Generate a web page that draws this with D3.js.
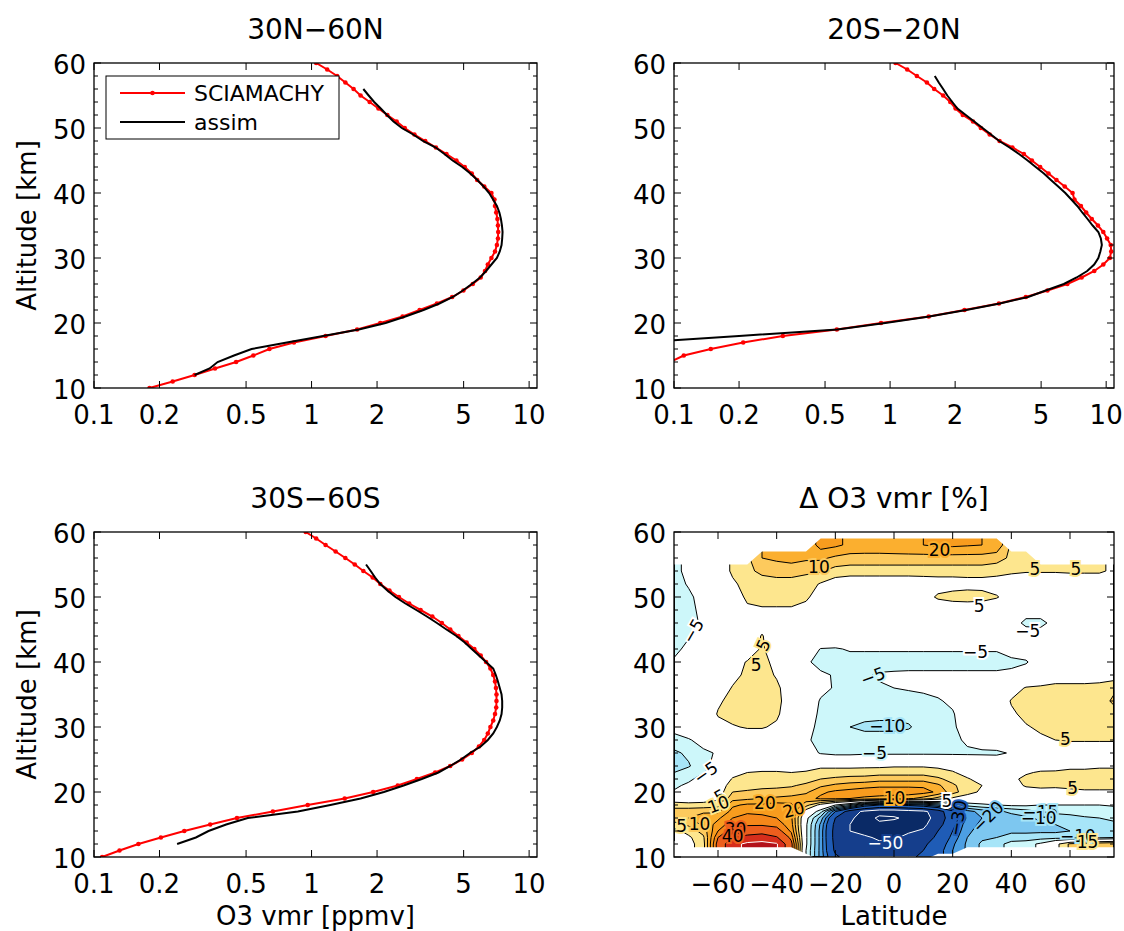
<!DOCTYPE html>
<html><head><meta charset="utf-8">
<script src="https://cdn.jsdelivr.net/npm/d3@7/dist/d3.min.js"></script>
<style>
html,body{margin:0;padding:0;background:#fff;}
svg{display:block;}
</style></head>
<body>
<svg id="fig" width="1124" height="931" xmlns="http://www.w3.org/2000/svg"></svg>
<script>
const n = null;
// ---------------- profile data (O3 vmr, ppmv) ----------------
const alt10to60 = [10,11,12,13,14,15,16,17,18,19,20,21,22,23,24,25,26,27,28,29,30,31,32,33,34,35,36,37,38,39,40,41,42,43,44,45,46,47,48,49,50,51,52,53,54,55,56,57,58,59,60];

// 30N-60N
const sciaNH = [0.18,0.23,0.29,0.36,0.45,0.54,0.64,0.83,1.16,1.62,2.07,2.62,3.14,3.77,4.43,4.99,5.51,5.99,6.27,6.46,6.71,6.97,7.11,7.19,7.21,7.19,7.15,7.06,6.97,6.93,6.71,6.22,5.77,5.45,5.06,4.63,4.17,3.73,3.33,2.97,2.68,2.46,2.23,2.03,1.85,1.68,1.56,1.43,1.31,1.18,1.05]; // 10..60 km
const assimNH = [0.29,0.34,0.37,0.44,0.53,0.77,1.13,1.65,2.19,2.70,3.27,3.87,4.46,4.96,5.45,5.95,6.34,6.71,7.11,7.33,7.47,7.52,7.55,7.5,7.42,7.3,7.11,6.83,6.55,6.18,5.78,5.37,4.93,4.45,4.08,3.72,3.25,2.93,2.6,2.38,2.22,2.08,1.94,1.83,1.73]; // 12..56 km

// 20S-20N
const sciaTR = [0.096,0.111,0.148,0.209,0.319,0.567,0.908,1.51,2.21,3.19,4.25,5.35,6.61,7.70,8.81,9.70,10.4,10.55,10.5,10.1,9.70,9.16,8.58,8.08,7.64,7.13,6.99,6.43,5.89,5.41,4.95,4.53,4.16,3.68,3.21,2.89,2.63,2.42,2.17,2.01,1.90,1.76,1.60,1.48,1.33,1.20,1.06]; // 14..60 km
const assimTR = [0.07,0.20,0.57,0.95,1.52,2.25,3.22,4.35,5.25,6.37,7.3,8.17,8.8,9.2,9.4,9.55,9.45,9.2,8.66,8.2,7.75,7.35,6.9,6.47,6.0,5.55,5.15,4.72,4.33,3.95,3.57,3.2,2.93,2.68,2.45,2.24,2.05,1.94,1.84,1.76,1.68,1.61]; // 17..58 km

// 30S-60S
const sciaSH = [0.109,0.131,0.160,0.203,0.260,0.342,0.454,0.664,0.96,1.42,1.92,2.49,3.05,3.70,4.34,4.92,5.45,5.88,6.22,6.46,6.64,6.84,6.97,7.06,7.08,7.08,7.04,6.97,6.84,6.64,6.34,5.99,5.60,5.16,4.73,4.34,3.97,3.59,3.17,2.81,2.52,2.28,2.07,1.91,1.73,1.58,1.43,1.29,1.16,1.05,0.94]; // 10..60 km
const assimSH = [0.241,0.294,0.336,0.405,0.509,0.865,1.22,1.68,2.15,2.65,3.21,3.83,4.34,4.86,5.35,5.99,6.46,6.84,7.11,7.33,7.47,7.52,7.52,7.47,7.33,7.19,7.03,6.84,6.34,5.88,5.45,5.06,4.63,4.17,3.77,3.39,3.03,2.70,2.43,2.23,2.07,1.96,1.87,1.78]; // 12..55 km

const xTickVals = [0.1,0.2,0.5,1,2,5,10];
const xTickText = ["0.1","0.2","0.5","1","2","5","10"];
const yTickVals = [10,20,30,40,50,60];
const latTickVals = [-60,-40,-20,0,20,40,60];

// ---------------- difference field (Delta O3 vmr, %) ----------------
const latC = [-75,-70,-65,-60,-55,-50,-45,-40,-35,-30,-25,-20,-15,-10,-5,0,5,10,15,20,25,30,35,40,45,50,55,60,65,70,75];
const altR = [10,11,12,13,14,15,16,17,18,19,20,21,22,23,24,26,28,30,32,34,36,38,40,42,44,46,48,50,52,54,56,58,60];
const dO3 = [
/*10*/[n,n,n,n,n,n,n,n,n,n,-22,-38,-45,-45,-45,-45,-42,-38,n,n,n,n,n,n,n,n,n,n,n,n,n],
/*11*/[n,n,n,n,n,n,n,n,n,-5,-22,-42,-47,-46,-47,-47,-44,-40,-33,-25,n,n,n,n,n,n,n,n,n,n,n],
/*12*/[n,3,8,33,47,52,53,51,32,-4,-22,-43,-48,-47,-49,-49,-46,-42,-35,-26,-19,-14,-12,-8,-7,-4,3,11,13,14,15],
/*13*/[1,4,9,30,41,43,45,41,28,-4,-22,-44,-49,-49,-51,-51,-48,-45,-38,-28,-20,-16,-15,-13,-13,-12,-12,-12,-12,-11,-10],
/*14*/[3,7,12,25,33,35,36,33,24,-4,-22,-44,-50,-52,-54,-53,-51,-49,-40,-30,-21,-18,-17,-16,-16,-16,-16,-15,-15,-14,-13],
/*15*/[8,11,16,22,28,29,29,28,22,-4,-21,-43,-50,-54,-58,-57,-55,-52,-44,-32,-22,-19,-18,-17,-17,-16,-15,-14,-13,-12,-11],
/*16*/[13,15,18,19,25,27,26,25,21,-3,-17,-40,-48,-55,-62,-61,-58,-54,-46,-34,-24,-20,-18,-17,-16,-14,-12,-11,-10.5,-10,-9],
/*17*/[12,13,14,14,22,24,24,24,21,2,-8,-30,-45,-52,-56,-56,-54,-52,-45,-32,-22,-18,-16,-14,-12,-10,-9,-9,-8,-8,-7],
/*18*/[8,7,7,8,19,21,21,22,21,12,3,-5,-12,-25,-30,-30,-28,-25,-20,-12,-8,-6,-5,-4,-4,-5,-5,-5,-5,-5,-4.5],
/*19*/[1,1,2,4,13,14,15,16,17,18,21,21,20,19,18,17,16,13,8,4,2,0,0,0,0,0,0,0.5,1,1,1],
/*20*/[-4.5,-2,0,2,10,10.5,11,11.5,12,14,19,21,22,23,23,23,23,22,19,12,7,4,1,1,3,3.5,4,4.5,4.5,4.5,4.5],
/*21*/[-6,-4,-1,1,8,8.5,9,9,9.5,11,14,16,17,18,19,19,19,19,16,11,7,5,1,3,5.5,6,5.5,5.5,6,6,6],
/*22*/[-8,-6,-3,0,5.5,7,7.5,7.5,7.5,8,10,11,12,12,13,13,13,13,11,8,5.5,3,1,4,6,6.5,7,7,7,7,7],
/*23*/[-10,-7.5,-5.3,-2,3,5,5.5,5.5,5,5.5,7,7,7,7.5,8,8,8,8,7,5.5,3,1.5,0,2,4.5,5.5,5.5,6,6,6,6],
/*24*/[-12,-10.5,-6.5,-3,1,2,2.5,2.5,2.5,3,4,4,4,4,4,4.5,4.5,4.5,4,3,2,1,0,1,2,3,3.5,4,4,4.5,4.5],
/*26*/[-11,-9,-6,-4.5,0,0,0,0,0,-2,-5.5,-6.5,-6.5,-6,-6,-6,-6,-6,-6,-6,-6,-6,-6,-4.5,-1,1,1,1,1,1,1],
/*28*/[-7,-5.5,-3,1,1,1,1,1,0,-4.5,-6,-7,-8,-8,-8,-8,-7.5,-7,-7,-6.5,-4,-2,-1,0,2,4,5,5.5,5.5,5.5,5.5],
/*30*/[-3,-1,0,3,4.5,5.5,5.5,4,0,-3,-6.5,-8,-10,-11,-11,-11,-10.5,-8,-7,-6,-2,0,0,1,4.5,6,6.5,6.5,6.5,6.5,7],
/*32*/[0,0,0,5.5,7,7.5,7.5,6,1,-2,-6,-7,-8,-8.5,-9,-9,-8.5,-7.5,-6.5,-5.5,-1.5,0,0,4,6.5,7,7,7,7,7,8],
/*34*/[0,0,0,4,7,7.5,7.5,6.5,2,-1,-5.5,-6.5,-7,-7,-7,-7,-7,-6.5,-5.5,-4,-1,0,0,5.5,7,7,7,7,7,7.5,11],
/*36*/[0,0,0,1,5.5,7,7,6,2,-1,-3.5,-5.5,-6,-6,-5.5,-5,-4.5,-4,-3.5,-2,0,0,0,2,5.5,6,6.5,6.5,6.5,7,9],
/*38*/[0,0,0,0,3,6.5,7,4.5,0,-3,-4,-5.5,-6.5,-5.5,-4.5,-4.2,-4,-4,-4,-4,-4,-4,-4,-4,-2,0,2,2,2,2,2],
/*40*/[-4.5,-1,0,0,2,5.5,7,3,0,-4,-7,-7.5,-7,-7,-7,-7,-7,-7,-7,-7,-7,-7,-7,-6,-5.5,-2,0,0,0,0,0],
/*42*/[-6,-4,-1,0,0,0.5,6,0.5,0,-2,-5.2,-5.5,-4.5,-4.5,-4.5,-4.5,-4.5,-4.5,-4.5,-4.5,-4.5,-4.5,-4.5,-3,-2,0,0,0,0,0,0],
/*44*/[-6.5,-5.3,-2,0,0,0,5.5,0,0,0,0,0,0,0,0,0,0,0,0,0,0,0,0,-1,-2.5,-2,-1,0,0,0,0],
/*46*/[-7,-6,-4.5,-1,0,0,2,0,0,0,0,0,0,0,0,0,0,0,0,0,0,0,0,-3,-6,-6.5,-3,0,0,0,0],
/*48*/[-7,-6,-4,0,1,4,4.5,4.5,4.5,3,0,0,0,0,0,0,0,0,0,0,0,0,0,-2,-3,-2,0,0,0,0,0],
/*50*/[-7,-6,-3,0,2,6,6.5,6.5,6.5,6,2,0,0,0,0,0,0,2,6,7.5,8,7.5,5.5,2,0,0,0,0,0,0,0],
/*52*/[-7,-4.5,-2,0,4,7,8,8,8,7.5,4.5,2,1,1,1,1,1,1.5,2,2,2.5,2.5,2,1.5,1,1,1,1,1,1,1],
/*54*/[-6,-4,-2,1,6,9,11,12,12,11,10.5,8,7.5,7.5,7.5,7.5,7.5,7.5,7.5,7.5,7.5,7.5,7,6,5.5,5.5,5.5,5.8,5.8,5.8,4],
/*56*/[n,n,n,n,n,n,15,16,17,16,16,14,13,13,13,13,13,13,13,13,13,13,12,9,7,n,n,n,n,n,n],
/*58*/[n,n,n,n,n,n,n,n,n,n,22,21,19,18.5,18.5,19,19.5,20,21,21,20.5,20,19,n,n,n,n,n,n,n,n],
/*60*/[n,n,n,n,n,n,n,n,n,n,n,n,n,n,n,n,n,n,n,n,n,n,n,n,n,n,n,n,n,n,n]
];
const levels = [-60,-50,-40,-30,-25,-20,-15,-10,-5,5,10,15,20,25,30,40,50];
const bandColors = ['#0a2a66','#0a2a66','#153e8c','#1f5cb6','#2f7bd0','#4c9fe3','#7dc7f0','#a7e5f8','#cdf7fa','#ffffff','#fde68e','#fdca5d','#fbaf2f','#f89c1e','#f5871a','#ec5e1d','#d62e1c','#b3121a'];
// inline contour labels: [lat, alt, text, angle]
const cLabels = [
 [15.5,57.3,"20",0],[-25.6,54.6,"10",0],[48,54.3,"5",0],[62,54.4,"5",0],[29,48.6,"5",0],
 [45.6,44.8,"\u22125",0],[-68.5,44.8,"\u22125",-60],[-44.6,42.6,"5",-65],[-47,39.6,"5",0],
 [27.8,41.6,"\u22125",0],[-7.2,37.8,"\u22125",-20],[-2.3,30.2,"\u221210",0],[-6.6,26,"\u22125",0],
 [58.4,28.1,"5",0],[-64.2,23,"\u22125",-35],[60.9,20.7,"5",0],[-59.3,19.4,"5",-30],[-59.9,18.1,"10",-20],
 [-44,18.3,"20",0],[-34.2,17.3,"20",-15],[0.2,19.1,"10",0],[18,18.6,"5",0],[21.7,16,"\u221230",-80],
 [32,16.2,"\u221220",-45],[49.9,16.9,"\u221215",0],[49.3,16,"\u221210",0],[-72.4,14.8,"5",0],[-66.3,15.1,"10",0],
 [-54,14.3,"30",0],[-55,13.3,"40",0],[-2.9,12.2,"\u221250",0],[62.7,13.2,"\u221210",0],[66,12.3,"15",0]
];

// ---------------- layout ----------------
const FONT = '"DejaVu Sans", "Liberation Sans", Arial, sans-serif';
const svg = d3.select('#fig');
const panels = {
  nh: {x0:94, x1:537, y0:63, y1:388},
  tr: {x0:674, x1:1114, y0:63, y1:388},
  sh: {x0:94, x1:537, y0:532, y1:857},
  dd: {x0:674, x1:1114, y0:532, y1:857}
};
const MAJ = 7, MIN = 4;

function txt(g, x, y, s, size, anchor) {
  return g.append('text').attr('x', x).attr('y', y).text(s)
    .attr('font-family', FONT).attr('font-size', size).attr('text-anchor', anchor || 'middle').attr('fill', '#000');
}
function ln(g, x1, y1, x2, y2, w, c) {
  g.append('line').attr('x1', x1).attr('y1', y1).attr('x2', x2).attr('y2', y2)
   .attr('stroke', c || '#000').attr('stroke-width', w || 1);
}
function frame(g, p, xs, ys, xVals, xText) {
  const minorY = d3.range(12, 60, 2).filter(v => v % 10 !== 0);
  minorY.forEach(v => { const y = ys(v); ln(g, p.x0, y, p.x0 + MIN, y); ln(g, p.x1, y, p.x1 - MIN, y); });
  yTickVals.forEach(v => {
    const y = ys(v); ln(g, p.x0, y, p.x0 + MAJ, y); ln(g, p.x1, y, p.x1 - MAJ, y);
    txt(g, p.x0 - 8, y + 11, String(v), 26, 'end');
  });
  xVals.forEach((v, i) => {
    const x = xs(v); ln(g, x, p.y1, x, p.y1 - MAJ); ln(g, x, p.y0, x, p.y0 + MAJ);
    txt(g, x, p.y1 + 36, xText[i], 26, 'middle');
  });
  g.append('rect').attr('x', p.x0).attr('y', p.y0).attr('width', p.x1 - p.x0).attr('height', p.y1 - p.y0)
    .attr('fill', 'none').attr('stroke', '#000').attr('stroke-width', 1.3);
}
function clipFor(id, p) {
  svg.append('clipPath').attr('id', id).append('rect')
    .attr('x', p.x0).attr('y', p.y0).attr('width', p.x1 - p.x0).attr('height', p.y1 - p.y0);
  return 'url(#' + id + ')';
}

function profile(key, title, scia, sciaAlt, assim, assimAlt, opt) {
  const p = panels[key];
  const g = svg.append('g');
  const xs = d3.scaleLog().domain([0.1, 10.87]).range([p.x0, p.x1]);
  const ys = d3.scaleLinear().domain([10, 60]).range([p.y1, p.y0]);
  const clip = clipFor('clip-' + key, p);
  const line = d3.line().x(d => xs(d[0])).y(d => ys(d[1]));
  const dg = g.append('g').attr('clip-path', clip);
  const sd = d3.zip(scia, sciaAlt);
  dg.append('path').attr('d', line(sd)).attr('fill', 'none').attr('stroke', '#ff0000').attr('stroke-width', 2);
  dg.selectAll('circle').data(sd).enter().append('circle')
    .attr('cx', d => xs(d[0])).attr('cy', d => ys(d[1])).attr('r', 2.3).attr('fill', '#ff0000');
  dg.append('path').attr('d', line(d3.zip(assim, assimAlt))).attr('fill', 'none').attr('stroke', '#000').attr('stroke-width', 2);
  frame(g, p, xs, ys, xTickVals, xTickText);
  txt(g, (p.x0 + p.x1) / 2, p.y0 - 24, title, 28, 'middle');
  if (opt.ylabel) {
    g.append('text').attr('transform', `translate(36,${(p.y0 + p.y1) / 2}) rotate(-90)`)
      .attr('font-family', FONT).attr('font-size', 26).attr('text-anchor', 'middle').text('Altitude [km]');
  }
  if (opt.xlabel) txt(g, (p.x0 + p.x1) / 2, 925, 'O3 vmr [ppmv]', 26, 'middle');
  if (opt.legend) {
    const lg = g.append('g');
    lg.append('rect').attr('x', 106).attr('y', 76).attr('width', 233).attr('height', 63)
      .attr('fill', '#fff').attr('stroke', '#000').attr('stroke-width', 1);
    ln(lg, 120, 93, 185, 93, 2, '#ff0000');
    lg.append('circle').attr('cx', 152.5).attr('cy', 93).attr('r', 2.3).attr('fill', '#ff0000');
    ln(lg, 120, 122, 185, 122, 2, '#000');
    txt(lg, 194, 101, 'SCIAMACHY', 22, 'start');
    txt(lg, 194, 130, 'assim', 22, 'start');
  }
}

profile('nh', '30N\u221260N', sciaNH, alt10to60, assimNH, alt10to60.slice(2, 47), {ylabel: true, legend: true});
profile('tr', '20S\u221220N', sciaTR, alt10to60.slice(4), assimTR, alt10to60.slice(7, 49), {});
profile('sh', '30S\u221260S', sciaSH, alt10to60, assimSH, alt10to60.slice(2, 46), {ylabel: true, xlabel: true});

// ---------------- contour panel ----------------
(function () {
  const p = panels.dd;
  const g = svg.append('g');
  const xs = d3.scaleLinear().domain([-75, 75]).range([p.x0, p.x1]);
  const ys = d3.scaleLinear().domain([10, 60]).range([p.y1, p.y0]);
  const nx = latC.length, ny = altR.length;
  const filled = new Array(nx * ny), mask = new Array(nx * ny);
  for (let j = 0; j < ny; j++) for (let i = 0; i < nx; i++) {
    let v = dO3[j][i];
    mask[j * nx + i] = v == null ? 1 : 0;
    if (v == null) { // nearest valid value in the same column (hidden under the mask)
      for (let d = 1; d < ny; d++) {
        if (j - d >= 0 && dO3[j - d][i] != null) { v = dO3[j - d][i]; break; }
        if (j + d < ny && dO3[j + d][i] != null) { v = dO3[j + d][i]; break; }
      }
    }
    filled[j * nx + i] = v;
  }
  const idx = (c, m) => Math.max(0, Math.min(m - 1, c - 0.5));
  const interp = (arr, t) => { const k = Math.min(Math.floor(t), arr.length - 2); return arr[k] + (t - k) * (arr[k + 1] - arr[k]); };
  const proj = d3.geoTransform({ point(x, y) { this.stream.point(xs(interp(latC, idx(x, nx))), ys(interp(altR, idx(y, ny)))); } });
  const path = d3.geoPath(proj);
  const clip = clipFor('clip-dd', p);
  const cg = g.append('g').attr('clip-path', clip);
  cg.append('rect').attr('x', p.x0).attr('y', p.y0).attr('width', p.x1 - p.x0).attr('height', p.y1 - p.y0).attr('fill', bandColors[0]);
  const cs = d3.contours().size([nx, ny]).thresholds(levels)(filled);
  cs.forEach((c, k) => cg.append('path').attr('d', path(c)).attr('fill', bandColors[k + 1]));
  cs.forEach(c => cg.append('path').attr('d', path(c)).attr('fill', 'none')
    .attr('stroke', Math.abs(c.value) >= 50 ? '#ffffff' : '#000').attr('stroke-width', 1));
  const ms = d3.contours().size([nx, ny]).thresholds([0.5])(mask);
  ms.forEach(c => cg.append('path').attr('d', path(c)).attr('fill', '#fff'));
  const valueAt = (lat, alt) => {
    const fi = Math.max(0, Math.min(nx - 1.0001, (lat + 75) / 5));
    let j = 0; while (j < ny - 2 && altR[j + 1] < alt) j++;
    const fj = Math.max(0, Math.min(1, (alt - altR[j]) / (altR[j + 1] - altR[j])));
    const i = Math.floor(fi), fx = fi - i;
    const v00 = filled[j * nx + i], v10 = filled[j * nx + i + 1], v01 = filled[(j + 1) * nx + i], v11 = filled[(j + 1) * nx + i + 1];
    return (v00 * (1 - fx) + v10 * fx) * (1 - fj) + (v01 * (1 - fx) + v11 * fx) * fj;
  };
  const colorOf = v => { let k = 0; while (k < levels.length && v >= levels[k]) k++; return bandColors[k]; };
  cLabels.forEach(L => {
    const x = xs(L[0]), y = ys(L[1]);
    const bg = colorOf(valueAt(L[0], L[1]));
    cg.append('text').attr('transform', `translate(${x},${y}) rotate(${L[3]})`)
      .attr('dy', '0.36em').attr('text-anchor', 'middle').attr('font-family', FONT).attr('font-size', 17)
      .attr('fill', L[2] === '\u221250' ? '#fff' : '#000')
      .attr('stroke', bg).attr('stroke-width', 4).attr('paint-order', 'stroke').text(L[2]);
  });
  frame(g, p, xs, ys, latTickVals, latTickVals.map(v => v < 0 ? '\u2212' + (-v) : String(v)));
  txt(g, (p.x0 + p.x1) / 2, p.y0 - 24, '\u0394 O3 vmr [%]', 28, 'middle');
  txt(g, (p.x0 + p.x1) / 2, 925, 'Latitude', 26, 'middle');
})();
</script>
</body></html>
